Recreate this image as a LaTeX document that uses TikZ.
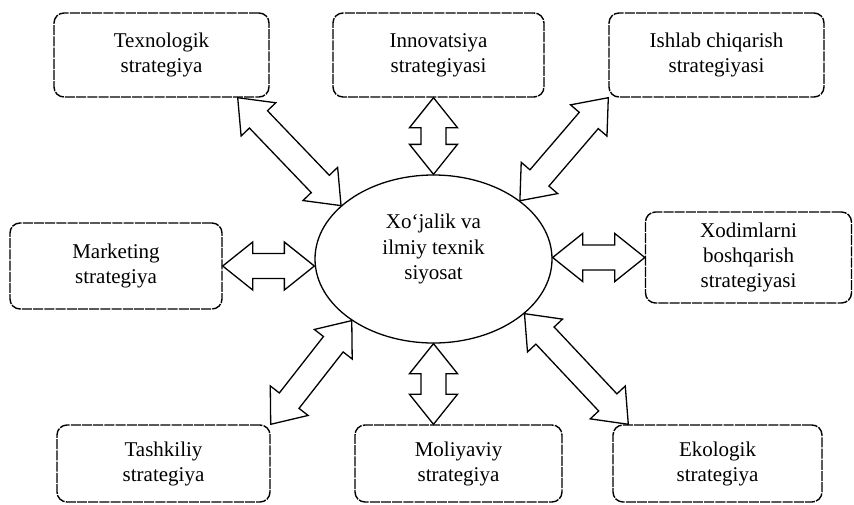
\documentclass[tikz,border=0pt]{standalone}
\usepackage{fontspec}
\setmainfont{Liberation Serif}
\usetikzlibrary{calc,shapes.geometric}

% hollow block arrow with a head at both ends
\newcommand{\dblarrow}[2]{%
  \draw[dbl] (#1)
    -- ($(#1)!30pt!(#2)!24pt!90:(#2)$)
    -- ($(#1)!30pt!(#2)!12.5pt!90:(#2)$)
    -- ($(#2)!30pt!(#1)!12.5pt!-90:(#1)$)
    -- ($(#2)!30pt!(#1)!24pt!-90:(#1)$)
    -- (#2)
    -- ($(#2)!30pt!(#1)!24pt!90:(#1)$)
    -- ($(#2)!30pt!(#1)!12.5pt!90:(#1)$)
    -- ($(#1)!30pt!(#2)!12.5pt!-90:(#2)$)
    -- ($(#1)!30pt!(#2)!24pt!-90:(#2)$)
    -- cycle;}

\begin{document}
\begin{tikzpicture}[
  x=1pt,y=-1pt,
  strat/.style={rectangle,rounded corners=10pt,draw,line width=1.4pt,dash pattern=on 10pt off 1.2pt,
    minimum width=212pt,minimum height=84pt,align=center,font=\fontsize{21}{25}\selectfont},
  hubnode/.style={ellipse,draw,line width=1.3pt,minimum width=237pt,minimum height=168pt,inner sep=0pt,
    align=center,text depth=24pt,font=\fontsize{21}{25.5}\selectfont},
  dbl/.style={draw,line width=1.3pt,fill=white,line join=miter}
]
  \useasboundingbox (0,0) rectangle (854,504);

  \node[hubnode] (hub) at (433.5,259) {Xo‘jalik va\\ilmiy texnik\\siyosat};

  \node[strat,minimum width=215pt] (tex) at (161.5,55) {Texnologik\\strategiya};
  \node[strat,minimum width=211pt] (innov) at (438.5,55) {Innovatsiya\\strategiyasi};
  \node[strat,minimum width=215pt] (ishlab) at (716.5,55) {Ishlab chiqarish\\strategiyasi};
  \node[strat,minimum height=86pt] (mkt) at (116,266) {Marketing\\strategiya};
  \node[strat,minimum width=206pt,minimum height=91pt] (xod) at (748.5,257.5) {Xodimlarni\\boshqarish\\strategiyasi};
  \node[strat,minimum width=213pt,minimum height=77pt] (tash) at (163.5,463.5) {Tashkiliy\\strategiya};
  \node[strat,minimum width=207pt,minimum height=77pt] (mol) at (458.5,463.5) {Moliyaviy\\strategiya};
  \node[strat,minimum width=209pt,minimum height=77pt] (eko) at (717.5,463.5) {Ekologik\\strategiya};

  \coordinate (texend) at ([xshift=-32pt]tex.south east);
  \coordinate (ekoend) at ([xshift=16pt]eko.north west);
  \coordinate (innovend) at (innov.south -| hub.north);
  \coordinate (molend) at (mol.north -| hub.south);
  \coordinate (mktend) at (mkt.east -| hub.west);
  \coordinate (xodend) at (xod.west -| hub.east);
  \coordinate (h150) at (hub.150);
  \coordinate (h34) at (hub.34);
  \coordinate (h217) at (hub.217);
  \coordinate (h329) at (hub.329);
  \coordinate (hn) at (hub.north);
  \coordinate (hs) at (hub.south);
  \coordinate (msw) at (ishlab.south west);
  \coordinate (tne) at (tash.north east);
  \coordinate (me) at (mkt.east);
  \coordinate (xw) at (xod.west);

  \dblarrow{texend}{h150}
  \dblarrow{innovend}{hn}
  \dblarrow{msw}{h34}
  \dblarrow{me}{mktend}
  \dblarrow{xodend}{xw}
  \dblarrow{h217}{tne}
  \dblarrow{hs}{molend}
  \dblarrow{h329}{ekoend}
\end{tikzpicture}
\end{document}
